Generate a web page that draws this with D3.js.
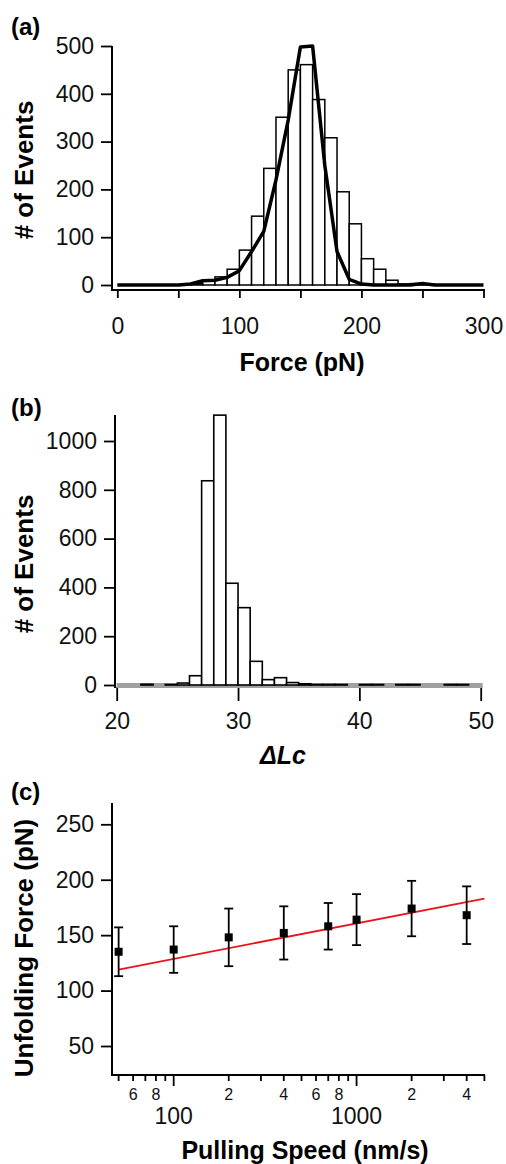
<!DOCTYPE html>
<html>
<head>
<meta charset="utf-8">
<script src="https://cdn.jsdelivr.net/npm/d3@7"></script>
<style>
  body { margin: 0; background: #fff; }
  svg { display: block; font-family: "Liberation Sans", Arial, sans-serif; }
</style>
</head>
<body>
<script>
// (a) force histogram, 10 pN bins (left edges) + fitted curve
const forceBins = [60, 70, 80, 90, 100, 110, 120, 130, 140, 150, 160, 170, 180, 190, 200, 210, 220, 230, 240, 250];
const forceCounts = [3, 10, 17, 33, 73, 144, 244, 351, 450, 461, 388, 308, 195, 128, 55, 33, 10, 2, 3, 2];
const fitForceX = [0, 50, 60, 70, 80, 90, 100, 110, 120, 130, 140, 150, 160, 170, 180, 190, 200, 210, 240, 250, 260, 300];
const fitForceY = [0, 0, 2, 9, 10, 16, 30, 70, 112, 220, 345, 498, 500, 250, 70, 12, 2, 0, 0, 3, 0, 0];
const forceTicks = [0, 50, 100, 150, 200, 250, 300];
const forceTickLabels = ["0", "", "100", "", "200", "", "300"];
const countTicksA = [0, 100, 200, 300, 400, 500];

// (b) contour length increment histogram, 1 nm bins
const lcBins = d3.range(20, 50);
const lcCounts = [0, 0, 3, 0, 2, 8, 38, 837, 1106, 417, 317, 97, 22, 30, 10, 5, 2, 2, 2, 0, 2, 2, 0, 2, 2, 0, 0, 2, 2, 0];
const lcTicks = [20, 30, 40, 50];
const countTicksB = [0, 200, 400, 600, 800, 1000];

// (c) unfolding force vs pulling speed
const speeds = [50, 100, 200, 400, 700, 1000, 2000, 4000];
const forces = [135, 137, 148, 152, 158, 164, 174, 168];
const forceErr = [22, 21, 26, 24, 21, 23, 25, 26];
const fitSpeeds = [50, 5000];
const fitForces = [119, 183];
const speedTicks = [50, 60, 70, 80, 90, 100, 200, 300, 400, 500, 600, 700, 800, 900, 1000, 2000, 3000, 4000, 5000];
const speedMinorLabels = { 60: "6", 80: "8", 200: "2", 400: "4", 600: "6", 800: "8", 2000: "2", 4000: "4" };
const speedMajor = [100, 1000];
const forceTicksC = [50, 100, 150, 200, 250];

const svg = d3.select("body").append("svg")
  .attr("width", 506)
  .attr("height", 1164);

const tickFont = 23;
const titleFont = 25;

function axisLine(x1, y1, x2, y2) {
  svg.append("line")
    .attr("x1", x1).attr("y1", y1).attr("x2", x2).attr("y2", y2)
    .attr("stroke", "#000").attr("stroke-width", 2);
}

function styleAxis(g) {
  g.select(".domain").remove();
  g.selectAll(".tick line").attr("stroke", "#000").attr("stroke-width", 1.8);
  g.selectAll(".tick text").attr("font-size", tickFont).attr("fill", "#111")
    .attr("font-family", "Liberation Sans, Arial, sans-serif");
}

function panelLabel(txt, y) {
  svg.append("text").attr("x", 11).attr("y", y)
    .attr("font-size", 24).attr("font-weight", "bold").text(txt);
}

function yTitle(txt, cy) {
  svg.append("text")
    .attr("transform", `translate(33, ${cy}) rotate(-90)`)
    .attr("text-anchor", "middle")
    .attr("font-size", 26).attr("font-weight", "bold")
    .text(txt);
}

// ---------- (a) ----------
{
  const x = d3.scaleLinear().domain([0, 300]).range([117.3, 483.5]);
  const y = d3.scaleLinear().domain([0, 500]).range([285, 46]);

  svg.append("g").attr("transform", "translate(112,0)")
    .call(d3.axisLeft(y).tickValues(countTicksA).tickSize(11).tickPadding(7))
    .call(styleAxis);
  svg.append("g").attr("transform", "translate(0,290)")
    .call(d3.axisBottom(x).tickValues(forceTicks).tickSize(8).tickPadding(20)
      .tickFormat((d, i) => forceTickLabels[i]))
    .call(styleAxis);
  axisLine(112, 46, 112, 291);
  axisLine(111, 290, 485, 290);

  svg.append("g").selectAll("rect")
    .data(forceBins)
    .join("rect")
    .attr("x", d => x(d))
    .attr("y", (d, i) => y(forceCounts[i]))
    .attr("width", d => x(d + 10) - x(d))
    .attr("height", (d, i) => y(0) - y(forceCounts[i]))
    .attr("fill", "#fff")
    .attr("stroke", "#000")
    .attr("stroke-width", 1.5);

  svg.append("path")
    .datum(fitForceX)
    .attr("fill", "none")
    .attr("stroke", "#000")
    .attr("stroke-width", 3.5)
    .attr("stroke-linejoin", "round")
    .attr("d", d3.line().x(d => x(d)).y((d, i) => y(fitForceY[i])));

  panelLabel("(a)", 35);
  yTitle("# of Events", 170);
  svg.append("text").attr("x", 302).attr("y", 371)
    .attr("text-anchor", "middle").attr("font-size", titleFont).attr("font-weight", "bold")
    .text("Force (pN)");
}

// ---------- (b) ----------
{
  const x = d3.scaleLinear().domain([20, 50]).range([116.7, 480.7]);
  const y = d3.scaleLinear().domain([0, 1000]).range([685, 441]);

  svg.append("g").attr("transform", "translate(115,0)")
    .call(d3.axisLeft(y).tickValues(countTicksB).tickSize(11).tickPadding(7)
      .tickFormat(d3.format("d")))
    .call(styleAxis);
  svg.append("g").attr("transform", "translate(0,687)")
    .call(d3.axisBottom(x).tickValues(lcTicks).tickSize(14).tickPadding(12))
    .call(styleAxis);
  axisLine(115, 415, 115, 688);

  // zero baseline: grey band with the dashed fit on top
  svg.append("line")
    .attr("x1", x(20)).attr("x2", x(50) + 2)
    .attr("y1", y(0) + 0.5).attr("y2", y(0) + 0.5)
    .attr("stroke", "#a0a0a0").attr("stroke-width", 5);

  svg.append("g").selectAll("rect")
    .data(lcBins.filter((d, i) => lcCounts[i] > 0))
    .join("rect")
    .attr("x", d => x(d))
    .attr("y", d => y(lcCounts[d - 20]))
    .attr("width", d => x(d + 1) - x(d))
    .attr("height", d => y(0) - y(lcCounts[d - 20]))
    .attr("fill", "#fff")
    .attr("stroke", "#000")
    .attr("stroke-width", 1.6);

  panelLabel("(b)", 416);
  yTitle("# of Events", 564);
  svg.append("text").attr("x", 283).attr("y", 764)
    .attr("text-anchor", "middle").attr("font-size", titleFont)
    .attr("font-weight", "bold").attr("font-style", "italic")
    .text("ΔLc");
}

// ---------- (c) ----------
{
  const x = d3.scaleLog().domain([46, 5000]).range([112, 484.4]);
  const y = d3.scaleLinear().domain([50, 250]).range([1046, 824.3]);

  svg.append("g").attr("transform", "translate(112,0)")
    .call(d3.axisLeft(y).tickValues(forceTicksC).tickSize(11).tickPadding(7))
    .call(styleAxis);

  const xg = svg.append("g").attr("transform", "translate(0,1075)");
  xg.selectAll("line")
    .data(speedTicks)
    .join("line")
    .attr("x1", d => x(d)).attr("x2", d => x(d))
    .attr("y1", 0)
    .attr("y2", d => speedMajor.includes(d) ? 11 : 6)
    .attr("stroke", "#000").attr("stroke-width", 1.8);
  xg.selectAll("text.minor")
    .data(speedTicks.filter(d => speedMinorLabels[d]))
    .join("text")
    .attr("class", "minor")
    .attr("x", d => x(d)).attr("y", 25)
    .attr("text-anchor", "middle").attr("font-size", 16).attr("fill", "#111")
    .text(d => speedMinorLabels[d]);
  xg.selectAll("text.major")
    .data(speedMajor)
    .join("text")
    .attr("class", "major")
    .attr("x", d => x(d)).attr("y", 49)
    .attr("text-anchor", "middle").attr("font-size", 23).attr("fill", "#111")
    .text(d => d);

  axisLine(112, 803, 112, 1076);
  axisLine(111, 1075, 485, 1075);

  svg.append("path")
    .datum(fitSpeeds)
    .attr("fill", "none")
    .attr("stroke", "#e8141c")
    .attr("stroke-width", 1.8)
    .attr("d", d3.line().x(d => x(d)).y((d, i) => y(fitForces[i])));

  const pts = svg.append("g").selectAll("g")
    .data(speeds)
    .join("g");
  pts.append("line")
    .attr("x1", d => x(d)).attr("x2", d => x(d))
    .attr("y1", (d, i) => y(forces[i] + forceErr[i]))
    .attr("y2", (d, i) => y(forces[i] - forceErr[i]))
    .attr("stroke", "#000").attr("stroke-width", 1.8);
  pts.selectAll("line.cap")
    .data((d, i) => [[d, forces[i] + forceErr[i]], [d, forces[i] - forceErr[i]]])
    .join("line")
    .attr("class", "cap")
    .attr("x1", d => x(d[0]) - 4.5).attr("x2", d => x(d[0]) + 4.5)
    .attr("y1", d => y(d[1])).attr("y2", d => y(d[1]))
    .attr("stroke", "#000").attr("stroke-width", 1.8);
  pts.append("rect")
    .attr("x", d => x(d) - 4).attr("y", (d, i) => y(forces[i]) - 4)
    .attr("width", 8).attr("height", 8)
    .attr("fill", "#000");

  panelLabel("(c)", 800);
  yTitle("Unfolding Force (pN)", 948);
  svg.append("text").attr("x", 305).attr("y", 1159)
    .attr("text-anchor", "middle").attr("font-size", titleFont).attr("font-weight", "bold")
    .text("Pulling Speed (nm/s)");
}
</script>
</body>
</html>
